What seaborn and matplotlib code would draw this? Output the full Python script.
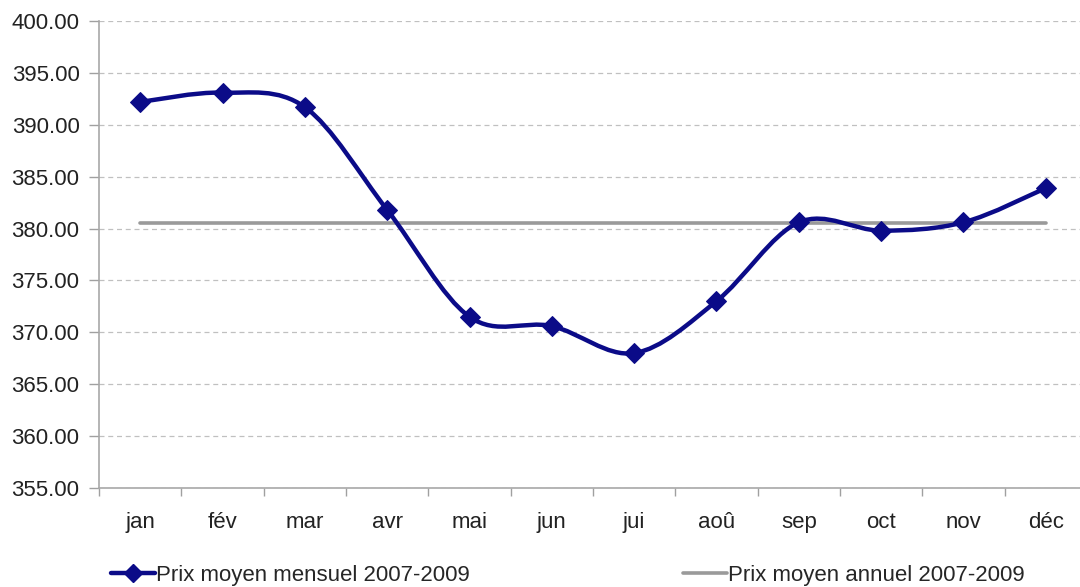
import numpy as np
import pandas as pd
import matplotlib
matplotlib.use("Agg")
import matplotlib.pyplot as plt
import seaborn as sns
from matplotlib.path import Path
from matplotlib.patches import PathPatch
from matplotlib.lines import Line2D

# Données
mois = ["jan", "fév", "mar", "avr", "mai", "jun", "jui", "aoû", "sep", "oct", "nov", "déc"]
prix_mensuel = [392.2, 393.1, 391.7, 381.8, 371.5, 370.6, 368.0, 373.0, 380.6, 379.8, 380.6, 383.9]
prix_annuel = 380.5

data = pd.DataFrame({"pos": np.arange(len(mois)), "mois": mois,
                     "mensuel": prix_mensuel, "annuel": [prix_annuel] * len(mois)})

sns.set_style("white")
plt.rcParams['font.family'] = ['Liberation Sans', 'DejaVu Sans']

bleu = "#0b0b88"
gris = "#9a9a9a"
fs = 16

fig = plt.figure(figsize=(10.8, 5.87), dpi=100)
ax = fig.add_axes([99 / 1080, 1 - 488 / 587, 988 / 1080, 467 / 587])

# Ligne annuelle
sns.lineplot(x="pos", y="annuel", data=data, ax=ax, color=gris, linewidth=2.6, zorder=2)

# Courbe lissée (façon Excel, Bézier)
x = data["pos"].to_numpy(float)
y = data["mensuel"].to_numpy(float)
pts = np.column_stack([x, y])
ext = np.vstack([pts[0], pts, pts[-1]])
verts = [tuple(pts[0])]
codes = [Path.MOVETO]
for i in range(len(pts) - 1):
    p0, p1, p2, p3 = ext[i], ext[i + 1], ext[i + 2], ext[i + 3]
    c1 = p1 + (p2 - p0) / 6
    c2 = p2 - (p3 - p1) / 6
    verts += [tuple(c1), tuple(c2), tuple(p2)]
    codes += [Path.CURVE4] * 3
ax.add_patch(PathPatch(Path(verts, codes), facecolor="none", edgecolor=bleu,
                       linewidth=3.2, zorder=3, capstyle="round"))
sns.lineplot(x="pos", y="mensuel", data=data, ax=ax, linestyle="", marker="D",
             markersize=10, color=bleu, markeredgecolor=bleu, zorder=4)

# Axes
ax.set_xlim(-0.5, 11.5)
ax.set_ylim(355, 400)
ax.set_yticks(np.arange(355, 401, 5))
ax.set_yticklabels([f"{v:.2f}" for v in np.arange(355, 401, 5)])
ax.set_xticks(x)
ax.set_xticklabels(mois)
ax.set_xticks(np.arange(-0.5, 11.6, 1), minor=True)
ax.set_xlabel("")
ax.set_ylabel("")
ax.tick_params(axis="y", which="major", length=7, width=1, color="#a0a0a0",
               labelsize=fs, pad=7, labelcolor="#222222", left=True)
ax.tick_params(axis="x", which="major", length=0, labelsize=fs, pad=17, labelcolor="#222222")
ax.tick_params(axis="x", which="minor", length=6, width=1, color="#a0a0a0", bottom=True)
ax.yaxis.grid(True, linestyle=(0, (4, 3)), color="#c0c0c0", linewidth=0.9)
ax.xaxis.grid(False)
for s in ["top", "right"]:
    ax.spines[s].set_visible(False)
for s in ["left", "bottom"]:
    ax.spines[s].set_color("#a8a8a8")
    ax.spines[s].set_linewidth(1.2)

# Légendes
h1 = Line2D([], [], color=bleu, linewidth=3.2, marker="D", markersize=9)
h2 = Line2D([], [], color=gris, linewidth=2.6)
leg1 = fig.legend([h1], ["Prix moyen mensuel 2007-2009"], loc="center left",
                  bbox_to_anchor=(102 / 1080, 1 - 575 / 587), frameon=False,
                  fontsize=fs, handlelength=2.0, handletextpad=0.05, borderaxespad=0)
leg2 = fig.legend([h2], ["Prix moyen annuel 2007-2009"], loc="center left",
                  bbox_to_anchor=(674 / 1080, 1 - 575 / 587), frameon=False,
                  fontsize=fs, handlelength=2.0, handletextpad=0.05, borderaxespad=0)

fig.savefig("out.png", dpi=100)
